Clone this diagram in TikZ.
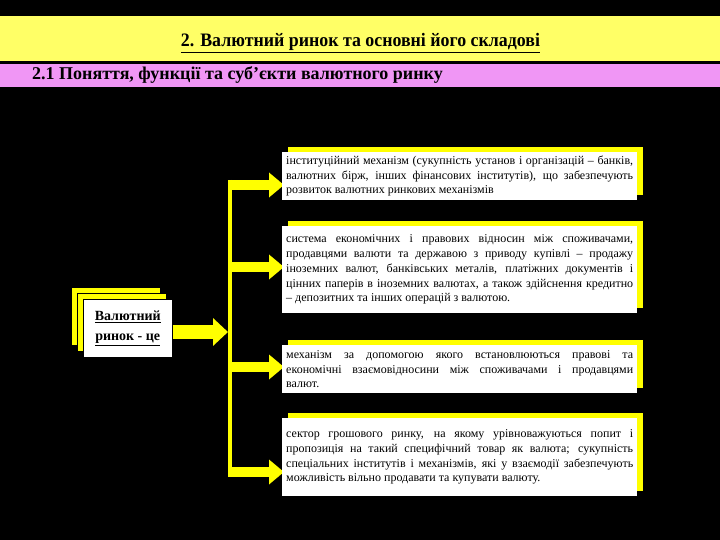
\documentclass[tikz,border=0pt]{standalone}
\usepackage{fontspec}
\setmainfont{Liberation Serif}
\usetikzlibrary{shadows,arrows.meta}
\definecolor{titleyellow}{RGB}{255,255,102}
\definecolor{subpink}{RGB}{240,150,245}
\definecolor{brightyellow}{RGB}{255,255,0}
\begin{document}
\begin{tikzpicture}[x=1pt,y=-1pt,
  defbox/.style={fill=white, text width=347pt, inner xsep=4pt, inner ysep=2pt,
    align=justify, anchor=north west, text=black,
    font=\fontsize{12}{14.7}\selectfont,
    copy shadow={shadow xshift=6pt, shadow yshift=5pt, fill=brightyellow, draw=none}},
  leftbox/.style={fill=white, draw=black, line width=0.5pt, minimum width=89pt, minimum height=58pt,
    anchor=north west, align=center, font=\fontsize{14}{18}\selectfont\bfseries,
    double copy shadow={shadow xshift=-6pt, shadow yshift=6pt, fill=brightyellow, draw=black}},
  branch/.style={brightyellow, line width=10pt, -{Triangle[width=24pt,length=15pt]}},
  bigarrow/.style={brightyellow, line width=14pt, -{Triangle[width=27pt,length=15pt]}},
  spine/.style={brightyellow, line width=4pt}
]
\useasboundingbox (0,0) rectangle (720,540);
\fill[black] (0,0) rectangle (720,540);
% header bars
\fill[titleyellow] (0,16) rectangle (720,61);
\fill[subpink] (0,64) rectangle (720,87);
\node[anchor=base, inner sep=0pt, font=\fontsize{19}{22}\selectfont\bfseries] (title) at (360.5,47)
  {\scalebox{0.94}[1]{\underline{2. Валютний ринок та основні його складові}}};
\node[anchor=base west, inner sep=0pt, font=\fontsize{18}{22}\selectfont\bfseries] (sub) at (32,80)
  {2.1 Поняття, функції та суб'єкти валютного ринку};

% spine coordinates
\coordinate (s1) at (230,185);
\coordinate (s2) at (230,267);
\coordinate (s3) at (230,367);
\coordinate (s4) at (230,472);
\coordinate (stop) at (230,180);
\coordinate (sbot) at (230,477);
\coordinate (bt) at (228,332);

% left box
\node[leftbox] (lb) at (83,299) {\underline{Валютний}\\[2pt]\underline{ринок - це}};
\draw[bigarrow] (lb.east |- bt) -- (bt);
\draw[spine] (stop) -- (sbot);

% branch arrows (drawn before boxes)
\draw[branch] (s1) -- (284,185);
\draw[branch] (s2) -- (284,267);
\draw[branch] (s3) -- (284,367);
\draw[branch] (s4) -- (284,472);

% definition boxes
\node[defbox, minimum height=48pt] (d1) at (282,152)
  {інституційний механізм (сукупність установ і організацій – банків,\linebreak
   валютних бірж, інших фінансових інститутів), що забезпечують\linebreak
   розвиток валютних ринкових механізмів};
\node[defbox, minimum height=87pt] (d2) at (282,226)
  {система економічних і правових відносин між споживачами,\linebreak
   продавцями валюти та державою з приводу купівлі – продажу\linebreak
   іноземних валют, банківських металів, платіжних документів і\linebreak
   цінних паперів в іноземних валютах, а також здійснення кредитно\linebreak
   – депозитних та інших операцій з валютою.};
\node[defbox, minimum height=48pt] (d3) at (282,345)
  {механізм за допомогою якого встановлюються правові та\linebreak
   економічні взаємовідносини між споживачами і продавцями\linebreak
   валют.};
\node[defbox, minimum height=78pt] (d4) at (282,418)
  {сектор грошового ринку, на якому урівноважуються попит і\linebreak
   пропозиція на такий специфічний товар як валюта; сукупність\linebreak
   спеціальних інститутів і механізмів, які у взаємодії забезпечують\linebreak
   можливість вільно продавати та купувати валюту.};
\end{tikzpicture}
\end{document}
